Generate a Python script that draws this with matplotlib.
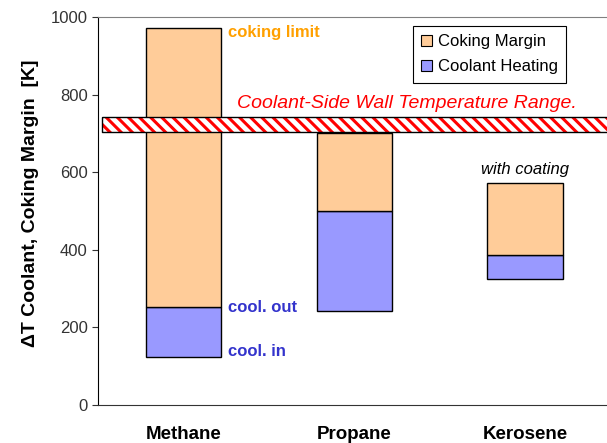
import matplotlib.pyplot as plt
from matplotlib.patches import Patch

plt.rcParams["font.family"] = ["Liberation Sans", "DejaVu Sans"]
plt.rcParams["hatch.linewidth"] = 2.2

fuels = ["Methane", "Propane", "Kerosene"]
cool_in = [124, 242, 326]
cool_out = [253, 500, 387]
coking_limit = [971, 702, 571]
wall_range = (704, 743)

MARGIN_COLOR = "#FFCC99"
HEAT_COLOR = "#9999FF"

fig = plt.figure(figsize=(6.07, 4.43), dpi=100)
ax = fig.add_axes([0.1614, 0.0858, 0.8386, 0.8758])

x = list(range(len(fuels)))
heating = [o - i for i, o in zip(cool_in, cool_out)]
margin = [c - o for o, c in zip(cool_out, coking_limit)]
ax.bar(x, heating, bottom=cool_in, width=0.44, color=HEAT_COLOR, edgecolor="black", linewidth=1)
ax.bar(x, margin, bottom=cool_out, width=0.44, color=MARGIN_COLOR, edgecolor="black", linewidth=1)

# wall temperature band
ax.fill_between([-0.475, 2.6], wall_range[0], wall_range[1], facecolor="white",
                edgecolor="red", hatch="\\\\\\", linewidth=0, zorder=3)
ax.fill_between([-0.475, 2.6], wall_range[0], wall_range[1], facecolor="none",
                edgecolor="black", linewidth=1, zorder=4)
ax.text(0.315, 778, "Coolant-Side Wall Temperature Range.", color="red", style="italic",
        fontsize=14, va="center", ha="left")

ax.text(0.26, 961, "coking limit", color="#FFA000", fontweight="bold", fontsize=12, va="center")
ax.text(0.26, 250, "cool. out", color="#3333CC", fontweight="bold", fontsize=12, va="center")
ax.text(0.26, 137, "cool. in", color="#3333CC", fontweight="bold", fontsize=12, va="center")
ax.text(2, 606, "with coating", style="italic", fontsize=12, ha="center", va="center")

handles = [Patch(facecolor=MARGIN_COLOR, edgecolor="black", linewidth=0.8, label="Coking Margin"),
           Patch(facecolor=HEAT_COLOR, edgecolor="black", linewidth=0.8, label="Coolant Heating")]
leg = ax.legend(handles=handles, loc="upper left", bbox_to_anchor=(0.619, 0.977), fontsize=12,
                handlelength=0.65, handleheight=0.65, handletextpad=0.35, labelspacing=0.6,
                fancybox=False, edgecolor="black", framealpha=1, borderpad=0.5,
                borderaxespad=0)
leg.get_frame().set_linewidth(0.8)

ax.set_xlim(-0.5, 2.48)
ax.set_ylim(0, 1000)
ax.set_yticks(range(0, 1001, 200))
ax.set_xticks(x)
ax.set_xticklabels(fuels, fontweight="bold", fontsize=13.5)
ax.tick_params(axis="x", length=0, pad=15)
ax.tick_params(axis="y", labelsize=12, length=4, direction="out", colors="#333333")
ax.set_ylabel("ΔT Coolant, Coking Margin  [K]", fontweight="bold", fontsize=14)
ax.yaxis.set_label_coords(-0.115, 0.52)

ax.spines["right"].set_visible(False)
ax.spines["top"].set_color("#808080")
ax.spines["bottom"].set_color("#333333")
ax.spines["left"].set_color("black")

fig.savefig("out.png", dpi=100)
